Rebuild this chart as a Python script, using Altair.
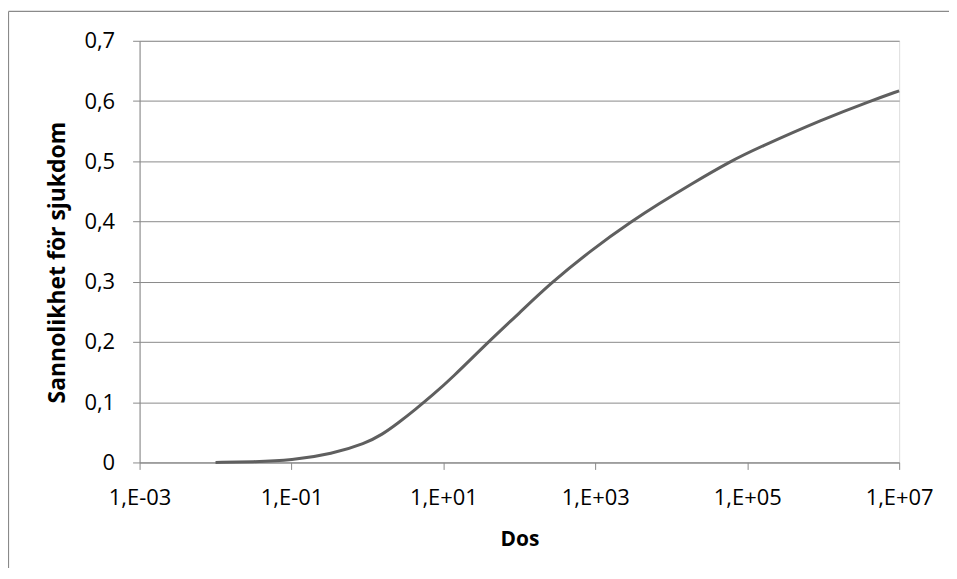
import altair as alt
import pandas as pd

# Values
dose = [0.01, 0.0316, 0.1, 0.34, 0.95, 1.55, 2.57, 4.27, 7.1, 12.9, 39, 100, 250, 890,
        3160, 6600, 18200, 60000, 138000, 1000000, 4200000, 10000000]
prob = [0.0, 0.001, 0.0035, 0.014, 0.032, 0.046, 0.066, 0.088, 0.111, 0.14, 0.2, 0.248,
        0.296, 0.353, 0.402, 0.428, 0.462, 0.5, 0.522, 0.57, 0.6, 0.617]

x_ticks = [1e-3, 1e-1, 1e1, 1e3, 1e5, 1e7]
y_ticks = [0, 0.1, 0.2, 0.3, 0.4, 0.5, 0.6, 0.7]

df = pd.DataFrame({"Dos": dose, "P": prob})

FONT = "Open Sans"
GRID = "#8a8a8a"

exp = "round(log(datum.value)/LN10)"
x_label = ("'1,E' + (" + exp + " < 0 ? '-' : '+') + (abs(" + exp + ") < 10 ? '0' : '') + abs(" + exp + ")")
y_label = "datum.value == 0 ? '0' : replace(format(datum.value, '.1f'), '.', ',')"

line = alt.Chart(df).mark_line(color="#5f5f5f", strokeWidth=3, interpolate="basis").encode(
    x=alt.X("Dos:Q",
            scale=alt.Scale(type="log", domain=[1e-3, 1e7], nice=False),
            axis=alt.Axis(values=x_ticks, labelExpr=x_label, grid=False,
                          title="Dos", titleFont=FONT, titleFontSize=21, titleFontWeight="bold",
                          titleColor="#000000", titleY=77, titleBaseline="middle",
                          labelFont=FONT, labelFontSize=22, labelColor="#000000", labelPadding=18,
                          tickColor=GRID, tickSize=7, domainColor=GRID, labelFlush=False)),
    y=alt.Y("P:Q",
            scale=alt.Scale(domain=[0, 0.7], nice=False),
            axis=alt.Axis(values=y_ticks, labelExpr=y_label, grid=True, gridColor=GRID,
                          gridOpacity=1, gridWidth=1,
                          title="Sannolikhet för sjukdom", titleFont=FONT, titleFontSize=23,
                          titleFontWeight="bold", titleColor="#000000",
                          titleX=-82, titleY=222, titleBaseline="middle",
                          labelFont=FONT, labelFontSize=22, labelColor="#000000", labelPadding=18,
                          tickColor=GRID, tickSize=7, domainColor=GRID)),
)

frame = pd.DataFrame({"a": [0]})
left_edge = alt.Chart(frame).mark_rule(color="#8a8a8a", strokeWidth=1.2).encode(
    x=alt.value(-131.5), y=alt.value(-29.5), y2=alt.value(700))
top_edge = alt.Chart(frame).mark_rule(color="#8a8a8a", strokeWidth=1.2).encode(
    x=alt.value(-131.5), x2=alt.value(900), y=alt.value(-29.5))

chart = alt.layer(left_edge, top_edge, line).properties(
    width=762, height=423,
    autosize=alt.AutoSizeParams(type="none"),
    padding={"left": 132, "top": 32, "right": 50, "bottom": 105},
).configure_view(strokeWidth=0).configure(background="white")

chart.save("out.html", embed_options={"renderer": "svg", "actions": False})
